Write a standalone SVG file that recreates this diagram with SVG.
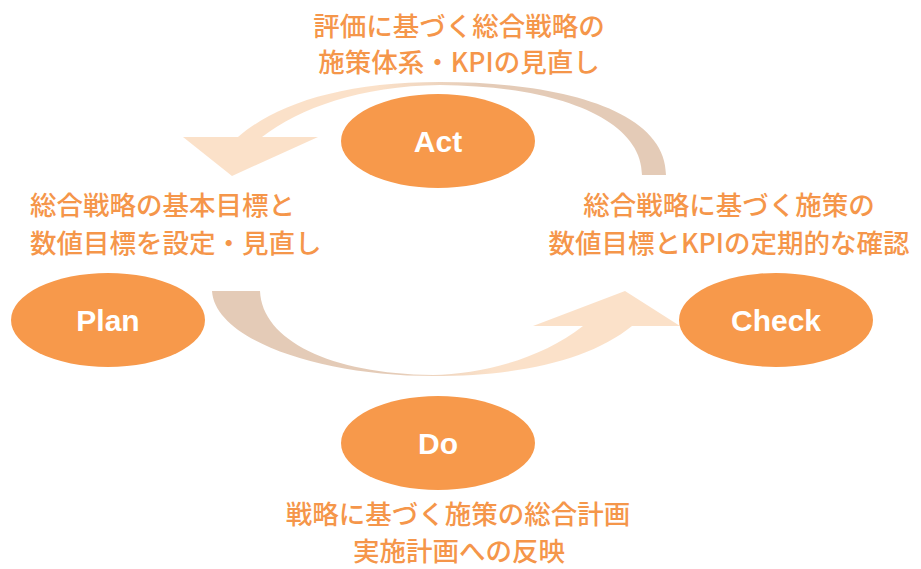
<svg xmlns="http://www.w3.org/2000/svg" width="921" height="569" viewBox="0 0 921 569">
<defs>
<linearGradient id="gTop" gradientUnits="userSpaceOnUse" x1="183" y1="0" x2="666" y2="0">
<stop offset="0.4" stop-color="#FBE1C9"/><stop offset="0.62" stop-color="#E4CBB7"/>
</linearGradient>
<linearGradient id="gBot" gradientUnits="userSpaceOnUse" x1="212" y1="0" x2="680" y2="0">
<stop offset="0.38" stop-color="#E4CBB7"/><stop offset="0.6" stop-color="#FBE1C9"/>
</linearGradient>
<style>
.node ellipse{fill:#F7994B}
.node text{fill:#fff;font-family:"Liberation Sans",Arial,sans-serif;font-weight:bold;font-size:30px;text-anchor:middle}
.lbl{fill:#F5964A;font-family:"Noto Sans CJK JP","Noto Sans",sans-serif;font-size:26.5px;font-weight:500}
</style>
</defs>
<g id="connectors">
<path fill="url(#gTop)" d="M666,175 C666,110 560,82 440,82 C340,82 275,105 238,137 L183,137 L232,176 L318,137 L262,137 C300,108 360,86 440,85 C560,86 642,120 642,175 Z"/>
<path fill="url(#gBot)" d="M212,291 C215,340 320,376 433,376 C520,376 590,360 632,326 L680,326 L625,291 L533,326 L583,326 C540,360 480,374 433,375 C330,374 262,340 260,291 Z"/>
</g>
<g id="act" class="node"><ellipse cx="438" cy="141" rx="97" ry="47"/><text x="438" y="152">Act</text></g>
<g id="plan" class="node"><ellipse cx="108" cy="320" rx="97" ry="47"/><text x="108" y="331">Plan</text></g>
<g id="check" class="node"><ellipse cx="776" cy="320" rx="97" ry="47"/><text x="776" y="331">Check</text></g>
<g id="do" class="node"><ellipse cx="438" cy="443" rx="97" ry="47"/><text x="438" y="454">Do</text></g>
<g id="labels">
<text class="lbl" x="459" y="36" text-anchor="middle">評価に基づく総合戦略の</text>
<text class="lbl" x="459" y="72" text-anchor="middle">施策体系・KPIの見直し</text>
<text class="lbl" x="30" y="215">総合戦略の基本目標と</text>
<text class="lbl" x="30" y="253">数値目標を設定・見直し</text>
<text class="lbl" x="729" y="215" text-anchor="middle">総合戦略に基づく施策の</text>
<text class="lbl" x="729" y="253" text-anchor="middle">数値目標とKPIの定期的な確認</text>
<text class="lbl" x="458" y="524" text-anchor="middle">戦略に基づく施策の総合計画</text>
<text class="lbl" x="459" y="561" text-anchor="middle">実施計画への反映</text>
</g>
</svg>
